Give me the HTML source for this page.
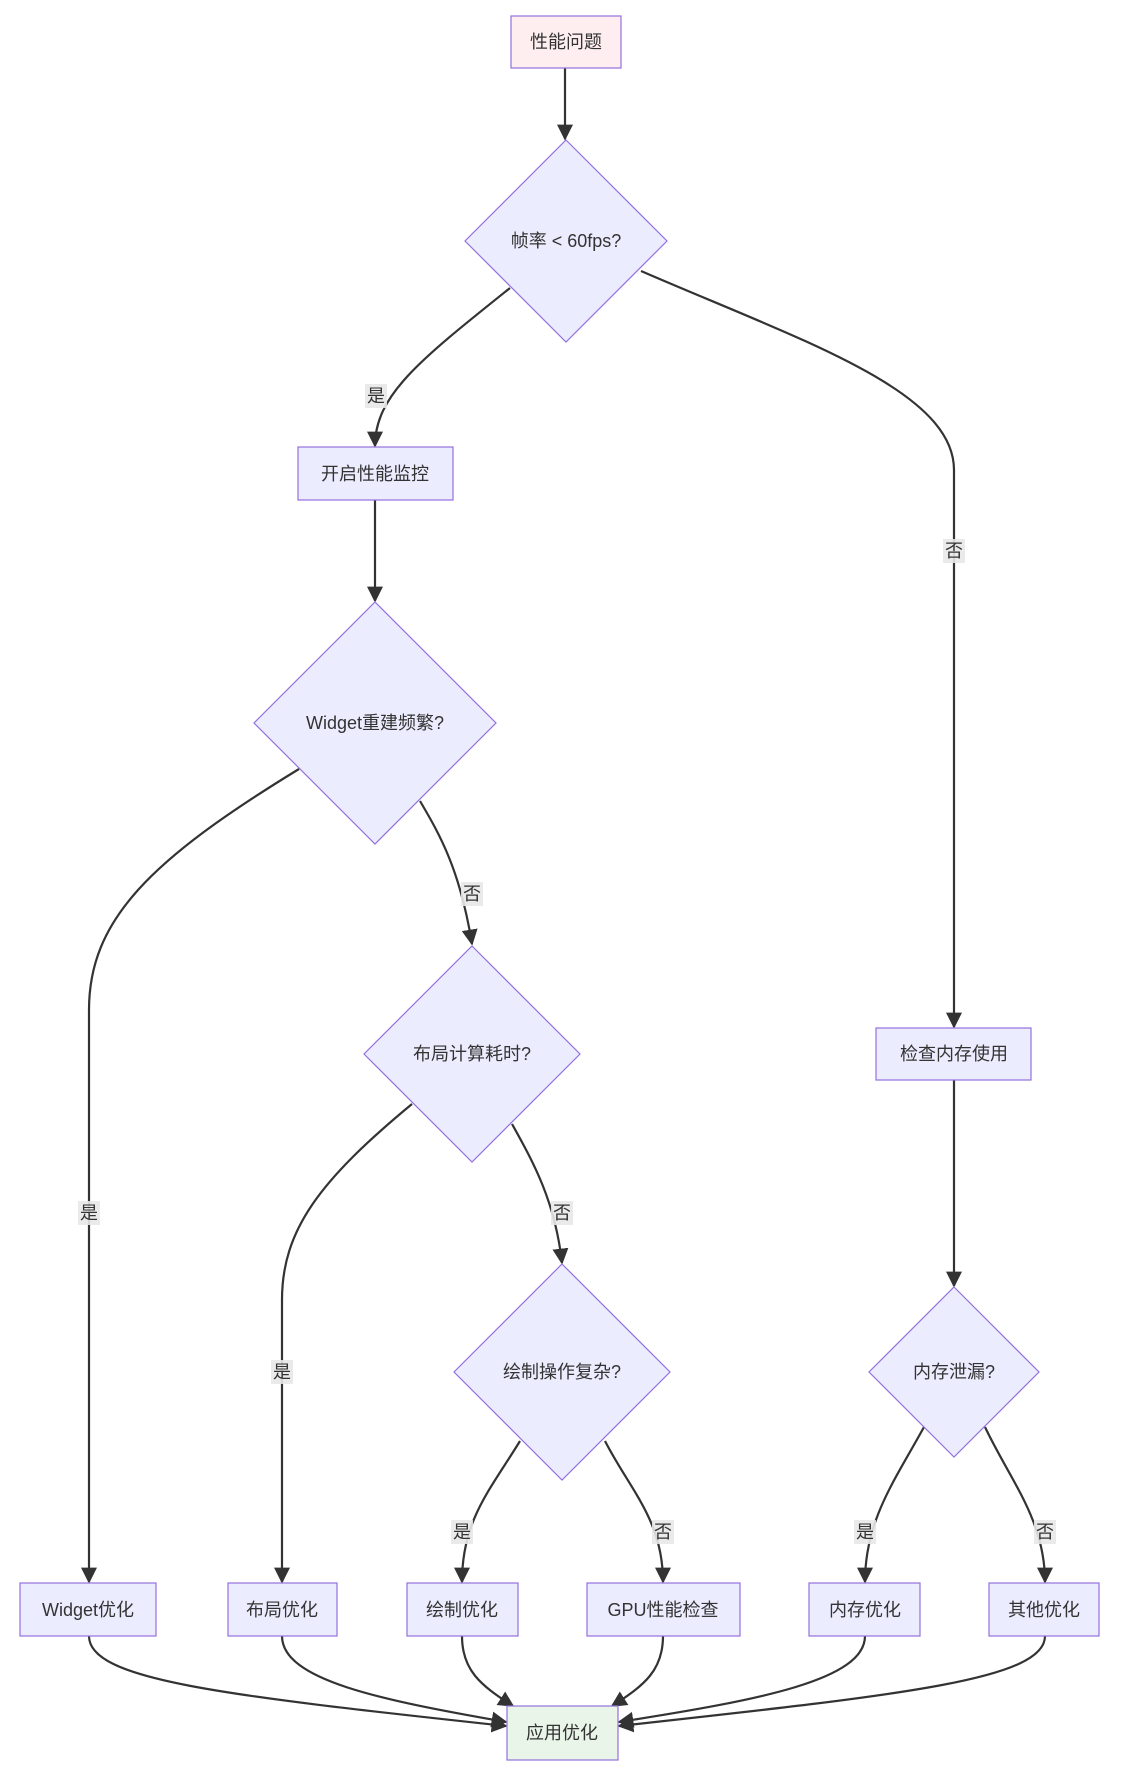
<!DOCTYPE html>
<html><head><meta charset="utf-8"><style>
body{margin:0;background:#fff}
svg text{font-family:"Liberation Sans","Noto Sans CJK SC",sans-serif;font-size:18px;fill:#333}
</style></head><body>
<svg width="1133" height="1785" viewBox="0 0 1133 1785" xmlns="http://www.w3.org/2000/svg">
<defs><marker id="a" viewBox="0 0 10 10" refX="9" refY="5" markerWidth="8" markerHeight="8" orient="auto-start-reverse" markerUnits="userSpaceOnUse"><path d="M0,0L10,5L0,10z" fill="#333"/></marker>
<marker id="b" viewBox="0 0 10 10" refX="9" refY="5" markerWidth="16" markerHeight="16" orient="auto" markerUnits="userSpaceOnUse"><path d="M0,0L10,5L0,10z" fill="#333"/></marker></defs>
<g fill="none" stroke="#333" stroke-width="2.2" marker-end="url(#b)">
<path d="M565,68 L565,139"/>
<path d="M510,288 C420,360 375,395 375,446"/>
<path d="M641,271 C800,340 954,390 954,470 L954,1027"/>
<path d="M375,500 L375,601"/>
<path d="M299,769 C150,860 89,920 89,1010 L89,1582"/>
<path d="M420,801 C440,835 460,870 472,944"/>
<path d="M412,1104 C320,1180 282,1230 282,1300 L282,1582"/>
<path d="M512,1124 C532,1160 555,1200 562,1263"/>
<path d="M954,1080 L954,1286"/>
<path d="M520,1441 C490,1490 462,1520 462,1582"/>
<path d="M605,1441 C630,1490 663,1520 663,1582"/>
<path d="M924,1427 C895,1480 865,1520 865,1582"/>
<path d="M985,1427 C1010,1480 1045,1520 1045,1582"/>
<path d="M89,1636 C89,1680 220,1695 506,1726"/>
<path d="M282,1636 C282,1680 380,1700 506,1722"/>
<path d="M462,1636 C462,1670 480,1685 513,1706"/>
<path d="M663,1636 C663,1670 645,1685 612,1706"/>
<path d="M865,1636 C865,1680 760,1700 619,1722"/>
<path d="M1045,1636 C1045,1680 900,1695 619,1726"/>
</g>
<g fill="#ECECFF" stroke="#9370DB" stroke-width="1.2">
<rect x="511" y="16" width="110" height="52" fill="#FFEEF0"/>
<polygon points="566,140 667,241 566,342 465,241"/>
<rect x="298" y="447" width="155" height="53"/>
<polygon points="375,602 496,723 375,844 254,723"/>
<polygon points="472,946 580,1054 472,1162 364,1054"/>
<polygon points="562,1264 670,1372 562,1480 454,1372"/>
<rect x="876" y="1028" width="155" height="52"/>
<polygon points="954,1287 1039,1372 954,1457 869,1372"/>
<rect x="20" y="1583" width="136" height="53"/>
<rect x="228" y="1583" width="109" height="53"/>
<rect x="407" y="1583" width="111" height="53"/>
<rect x="587" y="1583" width="153" height="53"/>
<rect x="809" y="1583" width="111" height="53"/>
<rect x="989" y="1583" width="110" height="53"/>
<rect x="507" y="1706" width="111" height="54" fill="#E8F5E8"/>
</g>
<g fill="#e8e8e8" opacity="0.9">
<rect x="365" y="384" width="22" height="24"/>
<rect x="943" y="539" width="22" height="24"/>
<rect x="78" y="1201" width="22" height="24"/>
<rect x="461" y="882" width="22" height="24"/>
<rect x="271" y="1360" width="22" height="24"/>
<rect x="551" y="1201" width="22" height="24"/>
<rect x="451" y="1520" width="22" height="24"/>
<rect x="652" y="1520" width="22" height="24"/>
<rect x="854" y="1520" width="22" height="24"/>
<rect x="1034" y="1520" width="22" height="24"/>
</g>
<g text-anchor="middle">
<text x="566" y="48">性能问题</text>
<text x="566" y="247">帧率 &lt; 60fps?</text>
<text x="375" y="480">开启性能监控</text>
<text x="375" y="729">Widget重建频繁?</text>
<text x="472" y="1060">布局计算耗时?</text>
<text x="562" y="1378">绘制操作复杂?</text>
<text x="954" y="1060">检查内存使用</text>
<text x="954" y="1378">内存泄漏?</text>
<text x="88" y="1616">Widget优化</text>
<text x="282" y="1616">布局优化</text>
<text x="462" y="1616">绘制优化</text>
<text x="663" y="1616">GPU性能检查</text>
<text x="865" y="1616">内存优化</text>
<text x="1044" y="1616">其他优化</text>
<text x="562" y="1739">应用优化</text>
<text x="376" y="402">是</text>
<text x="954" y="557">否</text>
<text x="89" y="1219">是</text>
<text x="472" y="900">否</text>
<text x="282" y="1378">是</text>
<text x="562" y="1219">否</text>
<text x="462" y="1538">是</text>
<text x="663" y="1538">否</text>
<text x="865" y="1538">是</text>
<text x="1045" y="1538">否</text>
</g>
</svg>
</body></html>
